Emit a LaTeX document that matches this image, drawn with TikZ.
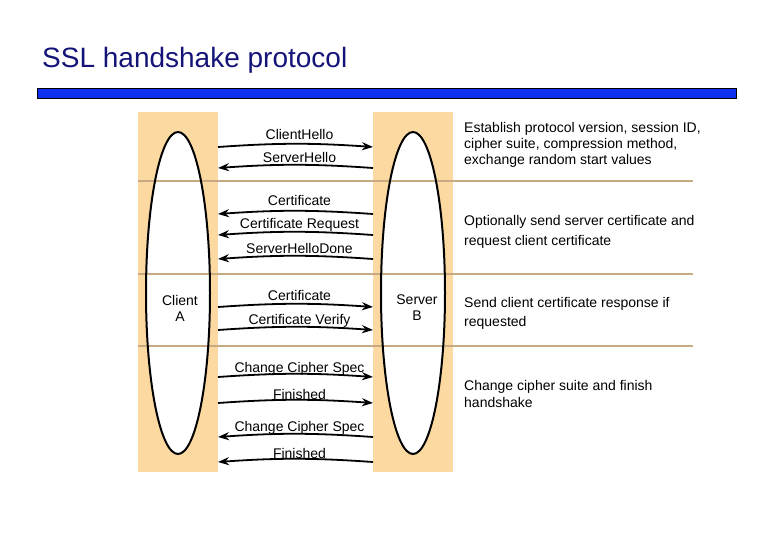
\documentclass[tikz,border=0pt]{standalone}
\usepackage{fontspec}
\setmainfont{Liberation Sans}
\usetikzlibrary{arrows.meta,shapes.geometric}

\definecolor{band}{RGB}{251,217,160}
\definecolor{rule}{RGB}{200,170,130}
\definecolor{titleblue}{RGB}{20,20,120}
\definecolor{barblue}{RGB}{16,48,240}

\begin{document}
\begin{tikzpicture}[x=1pt,y=-1pt,>={Stealth[length=11pt,width=8pt]},
  msg/.style={->,line width=1.8pt},
  lbl/.style={font=\fontsize{14}{16}\selectfont,inner sep=0pt},
  mlbl/.style={lbl,text height=10pt,text depth=3pt,xshift=4pt},
  note/.style={font=\fontsize{14}{16}\selectfont,align=left,anchor=north west,inner sep=0pt},
  oval/.style={line width=2pt},
  sep/.style={draw=rule,line width=1.3pt}]
  \useasboundingbox (0,0) rectangle (780,540);

  \node[anchor=base west,text=titleblue,font=\fontsize{28}{32}\selectfont,inner sep=0pt] (title) at (42,68) {SSL handshake protocol};
  \filldraw[fill=barblue,draw=black,line width=0.6pt] (37,88) rectangle (736,98);

  % the two parties
  \fill[band] (138,112) rectangle (218,472);
  \fill[band] (373,112) rectangle (453,472);
  \node[ellipse,fill=white,minimum width=64pt,minimum height=322pt] (cl) at (178,293) {};
  \node[ellipse,fill=white,minimum width=64pt,minimum height=322pt] (sv) at (413,293) {};
  \draw[sep] (138,181) -- (693,181);
  \draw[sep] (138,274) -- (693,274);
  \draw[sep] (138,346) -- (693,346);
  \draw[oval] (cl.center) ellipse [x radius=32,y radius=161];
  \draw[oval] (sv.center) ellipse [x radius=32,y radius=161];
  \node[lbl,align=center] (clA) at (180,308) {Client\\A};
  \node[lbl,align=center] (svB) at (417,308) {Server\\B};

  % message ends
  \foreach \n/\y in {a/147,b/168,c/214,d/235,e/259,f/307,g/330,h/377,i/403,j/437,k/462}{
    \coordinate (L\n) at (218,\y);
    \coordinate (R\n) at (373,\y);
  }

  \draw[msg] (La) to[bend left=4] node[mlbl,above=0pt] {ClientHello} (Ra);
  \draw[msg] (Rb) to[bend right=4] node[mlbl,above=-2pt] {ServerHello} (Lb);
  \draw[msg] (Rc) to[bend right=4] node[mlbl,above=1pt] {Certificate} (Lc);
  \draw[msg] (Rd) to[bend right=4] node[mlbl,above=-1pt] {Certificate Request} (Ld);
  \draw[msg] (Re) to[bend right=4] node[mlbl,above=-2pt] {ServerHelloDone} (Le);
  \draw[msg] (Lf) to[bend left=4] node[mlbl,above=-1pt] {Certificate} (Rf);
  \draw[msg] (Lg) to[bend left=4] node[mlbl,above=-1.5pt] {Certificate Verify} (Rg);
  \draw[msg] (Lh) to[bend left=4] node[mlbl,above=-3pt] {Change Cipher Spec} (Rh);
  \draw[msg] (Li) to[bend left=4] node[mlbl,above=-4pt] {Finished} (Ri);
  \draw[msg] (Rj) to[bend right=4] node[mlbl,above=-2pt] {Change Cipher Spec} (Lj);
  \draw[msg] (Rk) to[bend right=4] node[mlbl,above=-4pt] {Finished} (Lk);

  % phase notes
  \node[note] (n1) at (464,122) {Establish protocol version, session ID,\\cipher suite, compression method,\\exchange random start values};
  \node[note,font=\fontsize{14}{20}\selectfont] (n2) at (464,215) {Optionally send server certificate and\\request client certificate};
  \node[note,font=\fontsize{14}{19}\selectfont] (n3) at (464,297) {Send client certificate response if\\requested};
  \node[note,font=\fontsize{14}{17}\selectfont] (n4) at (464,380) {Change cipher suite and finish\\handshake};
\end{tikzpicture}
\end{document}
